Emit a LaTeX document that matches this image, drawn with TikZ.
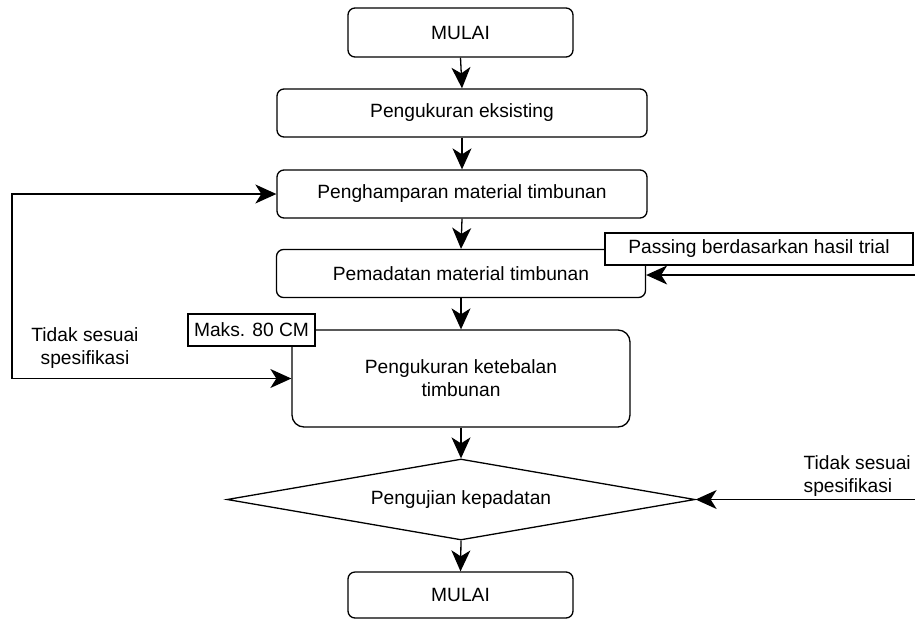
\documentclass[tikz,border=0pt]{standalone}
\usepackage{fontspec}
\setmainfont{Liberation Sans}
\usetikzlibrary{shapes.geometric,arrows.meta}
\tikzset{
  procbox/.style={draw, rounded corners=7pt, inner sep=0pt, align=center},
  notebox/.style={draw, fill=white, inner sep=0pt, align=center},
  flowarrow/.style={-{Stealth[length=21pt,width=19pt,inset=6pt]}}
}
\begin{document}
\begin{tikzpicture}[x=1pt,y=1pt,
  font=\fontsize{19.2}{23}\selectfont,
  line width=1.3pt]
\useasboundingbox (0,0) rectangle (915,-619);
\node[procbox, minimum width=225pt, minimum height=49pt] (start) at (460.5,-32.5) {MULAI};
\node[procbox, minimum width=370pt, minimum height=48pt] (eks) at (462,-113) {Pengukuran eksisting};
\node[procbox, minimum width=370pt, minimum height=48pt] (ham) at (462,-194) {Penghamparan material timbunan};
\node[procbox, minimum width=369pt, minimum height=48pt] (pem) at (461,-273.5) {Pemadatan material timbunan};
\node[procbox, rounded corners=12pt, minimum width=338pt, minimum height=97pt] (ket) at (461,-378.5) {Pengukuran ketebalan\\timbunan};
\node[draw, diamond, aspect=5.78, inner sep=0pt, minimum width=468pt, minimum height=81pt] (dia) at (461,-499.5) {Pengujian kepadatan};
\node[procbox, minimum width=225pt, minimum height=46pt] (fin) at (460.5,-595) {MULAI};

\node[notebox, minimum width=308pt, minimum height=32pt] (pass) at (759,-249) {Passing berdasarkan hasil trial};
\node[notebox, minimum width=127pt, minimum height=32pt] (maks) at (251.5,-330) {Maks. 80 CM};

\draw[flowarrow] (start.south) -- (eks.north);
\draw[flowarrow] (eks.south) -- (ham.north);
\draw[flowarrow] (ham.south) -- (pem.north);
\draw[flowarrow] (pem.south) -- (ket.north);
\draw[flowarrow] (ket.south) -- (dia.north);
\draw[flowarrow] (dia.south) -- (fin.north);

\coordinate (pr) at (915,-275);
\draw[flowarrow] (pr) -- (pr -| pem.east);
\coordinate (dr) at (915,-499.5);
\draw[flowarrow] (dr) -- (dia.east);

\coordinate (lc) at (12,-378.5);
\draw[flowarrow] (lc |- ket.west) -- (ket.west);
\draw[flowarrow] (lc |- ket.west) -- (lc |- ham.west) -- (ham.west);

\node[align=center] (lbl1) at (85,-348) {Tidak sesuai\\spesifikasi};
\node[align=left, anchor=west, inner sep=0pt] (lbl2) at (803,-476) {Tidak sesuai\\spesifikasi};
\end{tikzpicture}
\end{document}
